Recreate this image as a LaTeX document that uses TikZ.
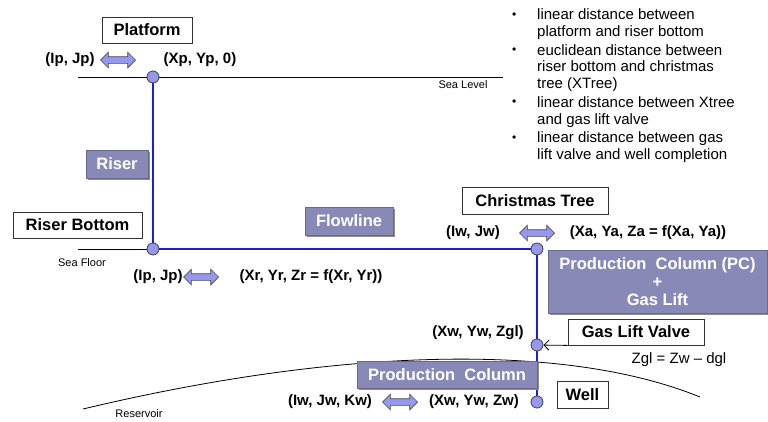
\documentclass[tikz,border=0pt]{standalone}
\usepackage{fontspec}
\setmainfont{Liberation Sans}
\usetikzlibrary{arrows.meta,shapes.arrows,shadows}

\definecolor{pcpurple}{RGB}{137,137,184}
\definecolor{pcrim}{RGB}{105,105,140}
\definecolor{ptfill}{RGB}{150,152,240}
\definecolor{pipeblue}{RGB}{30,30,215}

\newcommand\smallbul{\raisebox{1.5pt}{\fontsize{12}{12}\selectfont\textbullet}}

\tikzset{
  titlebox/.style={draw=black!80, line width=0.8pt, fill=white, inner sep=0pt,
    font=\fontsize{16.5}{18}\selectfont\bfseries},
  purplebox/.style={draw=pcrim, line width=0.8pt, fill=pcpurple, text=white, inner sep=0pt,
    font=\fontsize{16.5}{18}\selectfont\bfseries,
    drop shadow={shadow xshift=1.8pt, shadow yshift=-1.8pt, fill=black!45, opacity=1}},
  ptnode/.style={circle, draw=black!75, line width=0.8pt, fill=ptfill, minimum size=12pt, inner sep=0pt},
  lbl/.style={font=\fontsize{15}{16}\selectfont\bfseries, inner sep=0pt},
  smalllbl/.style={font=\fontsize{11}{12}\selectfont, inner sep=0pt},
  dblarr/.style={double arrow, draw=black!70, line width=0.7pt, fill=ptfill, inner xsep=0pt, inner ysep=3pt,
    minimum height=35pt, double arrow head extend=4.5pt},
  pipe/.style={draw=pipeblue, line width=1.4pt}
}

\begin{document}
\begin{tikzpicture}[x=1pt, y=-1pt]
			\useasboundingbox (0, 0) rectangle (768, 421);
			
			%%%%% POINTS %%%%%
			\node[ptnode] (ptPlatform) at (153, 77) {};
			\node[ptnode] (ptRiserBot) at (153, 249) {};
			\node[ptnode] (ptTree) at (537, 249) {};
			\node[ptnode] (ptValve) at (537, 345) {};
			\node[ptnode] (ptWell) at (537, 402) {};
			
			\coordinate (seaLevelW) at (78, 77);
			\coordinate (seaLevelE) at (503, 77);
			\coordinate (seaFloorW) at (78, 249);
			
			%%%%% SEA LEVEL, SEA FLOOR, RESERVOIR %%%%%
			\draw[line width=0.8pt] (seaLevelW) -- (ptPlatform) -- (seaLevelE);
			\draw[line width=0.8pt] (seaFloorW) -- (ptRiserBot);
			\draw[line width=0.8pt] (83, 409) .. controls (330, 350) and (560, 340) .. (700, 397);
			
			\node[smalllbl] (seaLevel) at (463, 85) {Sea Level};
			\node[smalllbl] (seaFloor) at (82, 263) {Sea Floor};
			\node[smalllbl] (reservoir) at (139, 414) {Reservoir};
			
			%%%%% PIPES %%%%%
			\draw[pipe] (ptPlatform) -- (ptRiserBot);
			\draw[pipe] (ptRiserBot) -- (ptTree);
			\draw[pipe] (ptTree) -- (ptValve);
			\draw[pipe] (ptValve) -- (ptWell);
			
			%%%%% TITLES %%%%%
			\node[titlebox, minimum width=90pt, minimum height=26pt] (platform) at (147, 30) {Platform};
			\node[titlebox, minimum width=129pt, minimum height=26pt] (riserBottom) at (77.5, 225) {Riser Bottom};
			\node[titlebox, minimum width=146pt, minimum height=27pt] (xmasTree) at (535, 200.5) {Christmas Tree};
			\node[titlebox, minimum width=136pt, minimum height=26pt] (gasValve) at (636, 332) {Gas Lift Valve};
			\node[titlebox, minimum width=51pt, minimum height=27pt] (well) at (582.5, 394.5) {Well};
			
			\node[purplebox, minimum width=62pt, minimum height=28pt] (riser) at (117, 164) {Riser};
			\node[purplebox, minimum width=88pt, minimum height=28pt] (flowline) at (349, 221) {Flowline};
			\node[purplebox, minimum width=219pt, minimum height=63pt, align=center] (pcGas) at (657.5, 281.5) {Production\ \ Column (PC)\\+\\Gas Lift};
			\node[purplebox, minimum width=180pt, minimum height=27pt] (prodCol) at (447, 374.5) {Production\ \ Column};
			
			\draw[line width=0.8pt, -{Straight Barb[length=5pt, width=10pt]}] (gasValve.south west) -- (ptValve);
			
			%%%%% COORDINATES %%%%%
			\node[lbl] (ijPlatform) at (70, 60) {(Ip, Jp)};
			\node[dblarr] (arrPlatform) at (118, 60) {};
			\node[lbl] (xyPlatform) at (200, 60) {(Xp, Yp, 0)};
			
			\node[lbl] (ijRiser) at (158, 277) {(Ip, Jp)};
			\node[dblarr] (arrRiser) at (201, 277) {};
			\node[lbl] (xyRiser) at (311, 277) {(Xr, Yr, Zr = f(Xr, Yr))};
			
			\node[lbl] (ijTree) at (473, 233) {(Iw, Jw)};
			\node[dblarr] (arrTree) at (537, 233) {};
			\node[lbl] (xyTree) at (648, 233) {(Xa, Ya, Za = f(Xa, Ya))};
			
			\node[lbl] (xyValve) at (478, 333) {(Xw, Yw, Zgl)};
			\node[font=\fontsize{15}{16}\selectfont, inner sep=0pt] (zglEq) at (679, 360) {Zgl = Zw -- dgl};
			
			\node[lbl] (ijWell) at (330, 402) {(Iw, Jw, Kw)};
			\node[dblarr] (arrWell) at (400, 402) {};
			\node[lbl] (xyWell) at (474, 402) {(Xw, Yw, Zw)};
			
			%%%%% DISTANCES %%%%%
			\node[anchor=north west, inner sep=0pt, font=\fontsize{15}{16.7}\selectfont] (distList) at (512, 8) {%
				\begin{tabular}{@{}p{25pt}@{}l@{}}
				\smallbul & linear distance between\\
				& platform and riser bottom\\[2pt]
				\smallbul & euclidean distance between\\
				& riser bottom and christmas\\
				& tree (XTree)\\[2pt]
				\smallbul & linear distance between Xtree\\
				& and gas lift valve\\[2pt]
				\smallbul & linear distance between gas\\
				& lift valve and well completion
				\end{tabular}};
			
		\end{tikzpicture}
\end{document}
